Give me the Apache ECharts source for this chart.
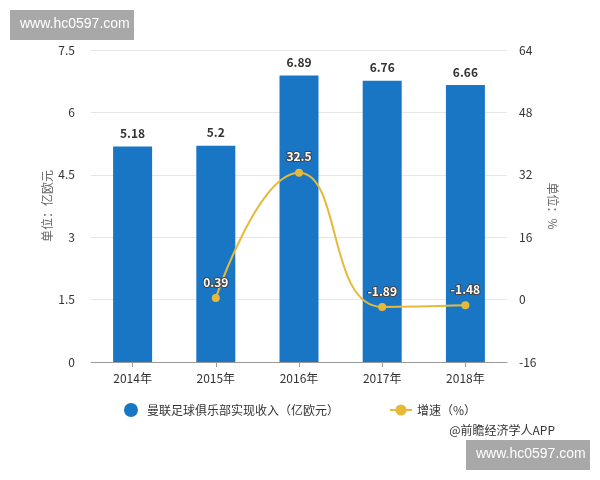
<!DOCTYPE html>
<html>
<head>
<meta charset="utf-8">
<script src="https://cdn.jsdelivr.net/npm/echarts@6/dist/echarts.min.js"></script>
<style>
  html, body { margin: 0; padding: 0; background: #ffffff; }
  #chart { width: 600px; height: 480px; }
</style>
</head>
<body>
<div id="chart"></div>
<script>
const years = ["2014年", "2015年", "2016年", "2017年", "2018年"];
const revenue = [5.18, 5.2, 6.89, 6.76, 6.66];
const growth = [null, 0.39, 32.5, -1.89, -1.48];

const leftTicks = { min: 0, max: 7.5, interval: 1.5 };
const rightTicks = { min: -16, max: 64, interval: 16 };

const chart = echarts.init(document.getElementById("chart"));

chart.setOption({
    animation: false,
    textStyle: {
        fontFamily: "Noto Sans CJK SC"
    },
    grid: {
        left: 91,
        right: 93,
        top: 50,
        bottom: 118
    },
    legend: {
        left: "center",
        top: 398,
        itemGap: 50,
        itemWidth: 22,
        textStyle: {
            color: "#333333",
            fontSize: 12
        },
        data: [
            { name: "曼联足球俱乐部实现收入（亿欧元）", icon: "circle" },
            { name: "增速（%）" }
        ]
    },
    xAxis: {
        type: "category",
        data: years,
        axisLine: { lineStyle: { color: "#999999" } },
        axisTick: { show: true, alignWithLabel: true, lineStyle: { color: "#999999" } },
        axisLabel: { color: "#333333", fontSize: 12, margin: 10 }
    },
    yAxis: [
        {
            type: "value",
            min: leftTicks.min,
            max: leftTicks.max,
            interval: leftTicks.interval,
            name: "单位：亿欧元",
            nameLocation: "middle",
            nameGap: 38,
            nameMoveOverlap: false,
            nameRotate: 90,
            nameTextStyle: { color: "#666666", fontSize: 12 },
            axisLine: { show: false },
            axisTick: { show: false },
            axisLabel: { color: "#333333", fontSize: 12, margin: 16 },
            splitLine: { lineStyle: { color: "#e6e6e6" } }
        },
        {
            type: "value",
            min: rightTicks.min,
            max: rightTicks.max,
            interval: rightTicks.interval,
            name: "单位：%",
            nameLocation: "middle",
            nameGap: 40,
            nameMoveOverlap: false,
            nameRotate: -90,
            nameTextStyle: { color: "#666666", fontSize: 12 },
            axisLine: { show: false },
            axisTick: { show: false },
            axisLabel: { color: "#333333", fontSize: 12, margin: 12 },
            splitLine: { show: false }
        }
    ],
    series: [
        {
            name: "曼联足球俱乐部实现收入（亿欧元）",
            type: "bar",
            data: revenue,
            barWidth: 39,
            itemStyle: { color: "#1976c5" },
            label: {
                show: true,
                position: "top",
                color: "#333333",
                fontSize: 12,
                fontWeight: "bold",
                distance: 7
            }
        },
        {
            name: "增速（%）",
            type: "line",
            yAxisIndex: 1,
            data: growth,
            smooth: true,
            symbol: "circle",
            symbolSize: 8,
            lineStyle: { color: "#e6b93a", width: 2 },
            itemStyle: { color: "#e6b93a" },
            label: {
                show: true,
                position: "top",
                color: "#ffffff",
                fontSize: 12,
                fontWeight: "bold",
                textBorderColor: "#444444",
                textBorderWidth: 2,
                distance: 6
            }
        }
    ],
    graphic: [
        {
            type: "rect",
            left: 10,
            top: 10,
            shape: { width: 124, height: 30 },
            style: { fill: "#a8a8a8" }
        },
        {
            type: "text",
            left: 20,
            top: 17,
            style: { text: "www.hc0597.com", fill: "#ffffff", fontSize: 14, fontFamily: "Liberation Sans" }
        },
        {
            type: "text",
            right: 45,
            top: 424,
            style: { text: "@前瞻经济学人APP", fill: "#333333", fontSize: 12, fontFamily: "Noto Sans CJK SC" }
        },
        {
            type: "rect",
            left: 466,
            top: 440,
            shape: { width: 124, height: 30 },
            style: { fill: "#a8a8a8" }
        },
        {
            type: "text",
            left: 476,
            top: 447,
            style: { text: "www.hc0597.com", fill: "#ffffff", fontSize: 14, fontFamily: "Liberation Sans" }
        }
    ]
});
</script>
</body>
</html>
